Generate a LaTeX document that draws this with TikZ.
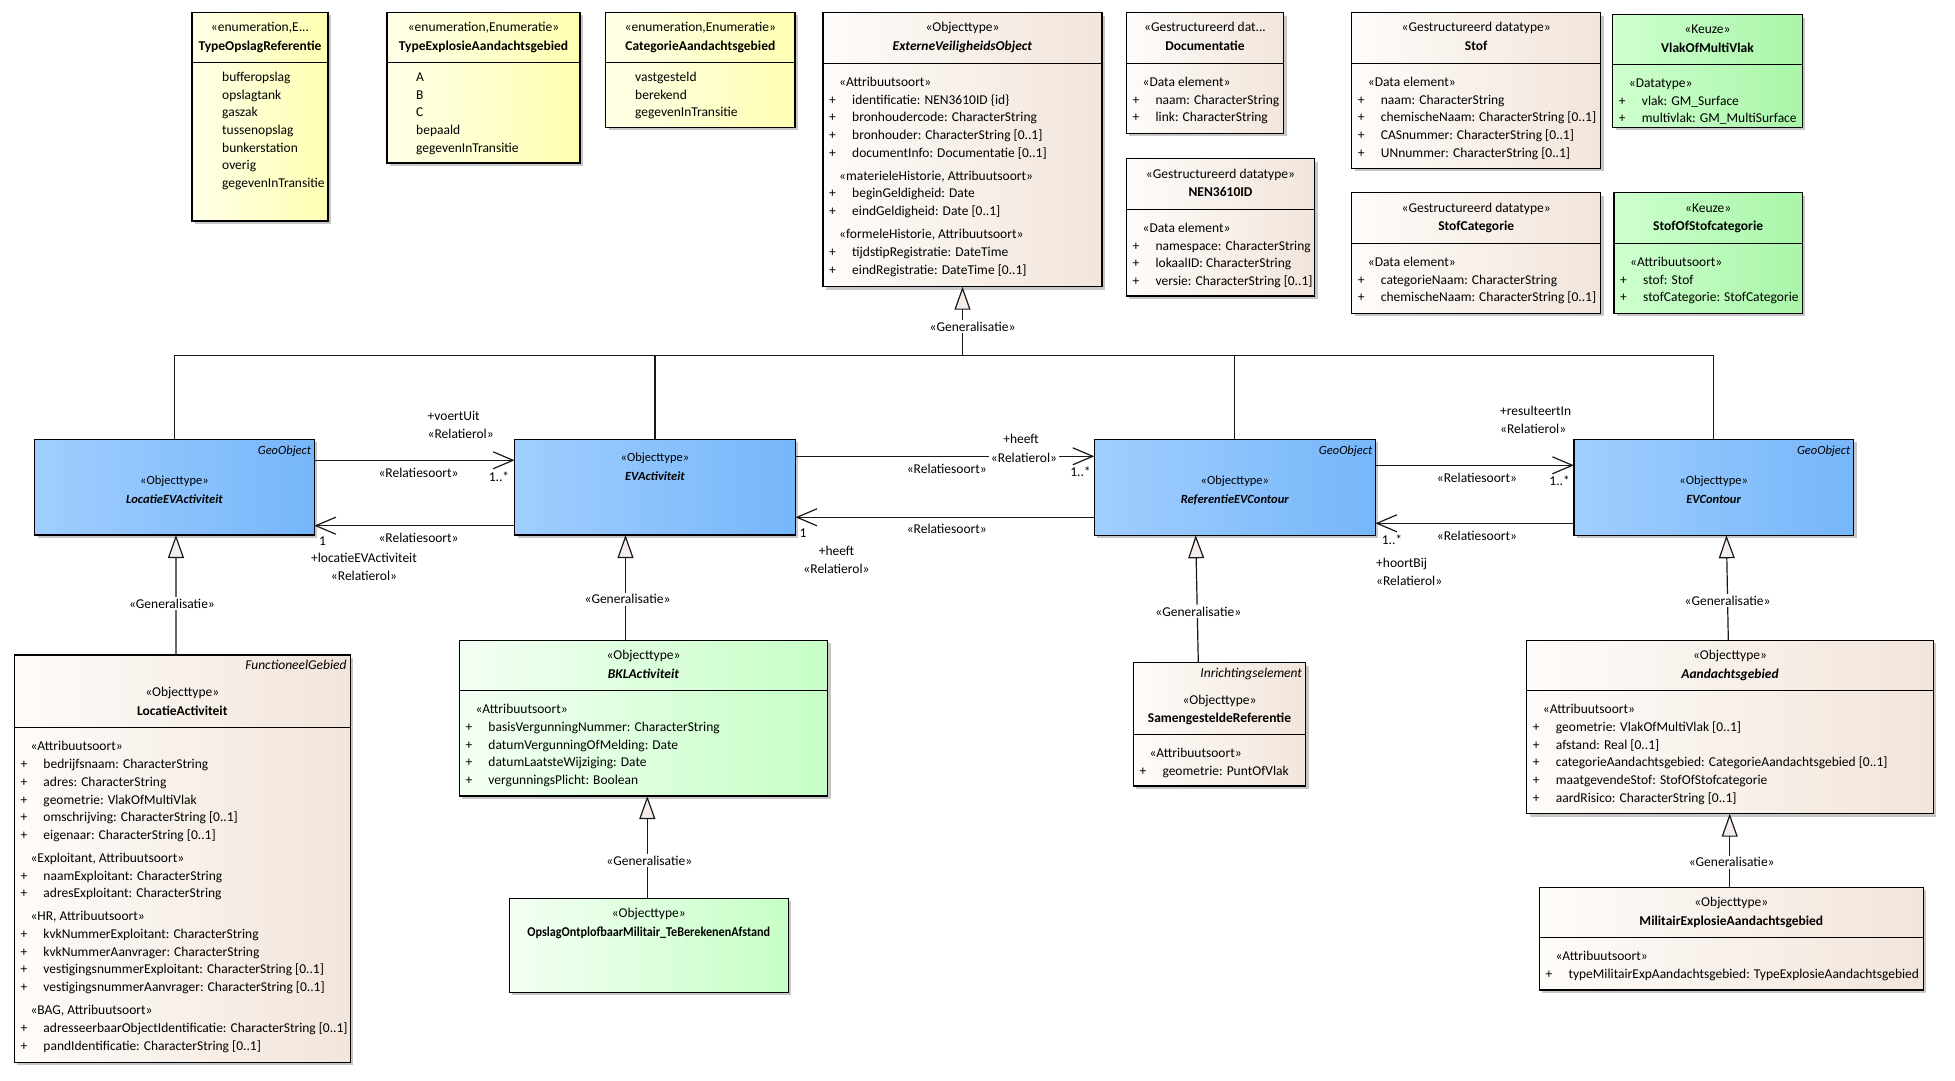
\documentclass[tikz,border=0pt]{standalone}
\usepackage{fontspec}
\setmainfont{Carlito}
\usetikzlibrary{arrows.meta,shadows}

\definecolor{enumL}{RGB}{255,255,232}
\definecolor{enumR}{RGB}{255,255,178}
\definecolor{dataL}{RGB}{254,252,249}
\definecolor{dataR}{RGB}{242,229,219}
\definecolor{keuzeL}{RGB}{206,255,206}
\definecolor{keuzeR}{RGB}{168,246,168}
\definecolor{bklL}{RGB}{244,255,244}
\definecolor{bklR}{RGB}{198,255,198}
\definecolor{geoL}{RGB}{160,206,255}
\definecolor{geoR}{RGB}{118,182,250}
\definecolor{trifill}{RGB}{245,237,233}
\definecolor{linec}{RGB}{25,25,25}

\newcommand{\txtfont}{\fontsize{13.5}{17.7}\selectfont}
\newcommand{\hdfont}{\fontsize{13.5}{18.4}\selectfont}
\newcommand{\blufont}{\fontsize{12.5}{19}\selectfont}
\newcommand{\lblfont}{\fontsize{13.5}{18.3}\selectfont}
\newcommand{\sectline}[1]{\hspace*{10pt}#1}
\newcommand{\attrline}[1]{\makebox[23pt][l]{+}#1}

\tikzset{
  umlbox/.style={draw=black, line width=1.2pt, inner sep=0pt, outer sep=0pt, anchor=north west,
    drop shadow={shadow xshift=3pt, shadow yshift=-3pt, fill=black!22, opacity=1}},
  enumbox/.style={umlbox, left color=enumL, right color=enumR},
  databox/.style={umlbox, left color=dataL, right color=dataR},
  keuzebox/.style={umlbox, left color=keuzeL, right color=keuzeR},
  bklbox/.style={umlbox, left color=bklL, right color=bklR},
  geobox/.style={umlbox, left color=geoL, right color=geoR},
  divline/.style={line width=1.2pt, draw=black},
  hdr/.style={align=center, font=\hdfont, inner sep=0pt},
  bluhdr/.style={align=center, font=\blufont, inner sep=0pt},
  cmp/.style={align=left, anchor=north west, font=\txtfont, inner sep=0pt},
  owner/.style={font=\blufont\itshape, inner sep=0pt, anchor=north east},
  lbl/.style={font=\lblfont, inner sep=0pt},
  genlbl/.style={font=\lblfont, fill=white, inner sep=2pt},
  line/.style={line width=1.2pt, draw=linec},
  assoc/.style={line, -{Straight Barb[length=20pt, width=17pt]}},
  gen/.style={line, -{Triangle[length=23pt, width=16pt, fill=trifill]}}
}

\begin{document}
\begin{tikzpicture}[x=1pt, y=-1pt]
\useasboundingbox (0,0) rectangle (1955,1081);

% --- enumeraties
\node[enumbox, minimum width=136pt, minimum height=208.7pt] (opslag) at (192,12.3) {};
\draw[divline] ([yshift=-50.4pt]opslag.north west) -- ([yshift=-50.4pt]opslag.north east);
\node[hdr] (opslag-h) at (260,37.5) {\strut«enumeration,E...\\\strut\textbf{TypeOpslagReferentie}};
\node[cmp] (opslag-l) at (222,68.9) {\strut bufferopslag\\opslagtank\\gaszak\\tussenopslag\\bunkerstation\\overig\\gegevenInTransitie};

\node[enumbox, minimum width=193pt, minimum height=150.7pt] (explosie) at (387,12.3) {};
\draw[divline] ([yshift=-50.4pt]explosie.north west) -- ([yshift=-50.4pt]explosie.north east);
\node[hdr] (explosie-h) at (483.5,37.5) {\strut«enumeration,Enumeratie»\\\strut\textbf{TypeExplosieAandachtsgebied}};
\node[cmp] (explosie-l) at (416,68.9) {\strut A\\B\\C\\bepaald\\gegevenInTransitie};

\node[enumbox, minimum width=189.3pt, minimum height=115pt] (categorie) at (605.7,12.3) {};
\draw[divline] ([yshift=-50.4pt]categorie.north west) -- ([yshift=-50.4pt]categorie.north east);
\node[hdr] (categorie-h) at (700.35,37.5) {\strut«enumeration,Enumeratie»\\\strut\textbf{CategorieAandachtsgebied}};
\node[cmp] (categorie-l) at (635,68.9) {\strut vastgesteld\\berekend\\gegevenInTransitie};

% --- ExterneVeiligheidsObject
\node[databox, minimum width=279pt, minimum height=274pt] (evo) at (823,12.7) {};
\draw[divline] ([yshift=-50.6pt]evo.north west) -- ([yshift=-50.6pt]evo.north east);
\node[hdr] (evo-h) at (962.5,37.5) {\strut«Objecttype»\\\strut\textbf{\textit{ExterneVeiligheidsObject}}};
\node[cmp] (evo-a) at (829,73.9) {\strut\sectline{«Attribuutsoort»}\\
  \attrline{identificatie: NEN3610ID \{id\}}\\
  \attrline{bronhoudercode: CharacterString}\\
  \attrline{bronhouder: CharacterString [0..1]}\\
  \attrline{documentInfo: Documentatie [0..1]}\\[5.3pt]
  \sectline{«materieleHistorie, Attribuutsoort»}\\
  \attrline{beginGeldigheid: Date}\\
  \attrline{eindGeldigheid: Date [0..1]}\\[5.3pt]
  \sectline{«formeleHistorie, Attribuutsoort»}\\
  \attrline{tijdstipRegistratie: DateTime}\\
  \attrline{eindRegistratie: DateTime [0..1]}};

% --- datatypes
\node[databox, minimum width=157.2pt, minimum height=120.6pt] (doc) at (1126.4,12.7) {};
\draw[divline] ([yshift=-50.6pt]doc.north west) -- ([yshift=-50.6pt]doc.north east);
\node[hdr] (doc-h) at (1205,37.5) {\strut«Gestructureerd dat...\\\strut\textbf{Documentatie}};
\node[cmp] (doc-a) at (1132.4,73.9) {\strut\sectline{«Data element»}\\
  \attrline{naam: CharacterString}\\
  \attrline{link: CharacterString}};

\node[databox, minimum width=188.2pt, minimum height=137.3pt] (nen) at (1126.4,158.7) {};
\draw[divline] ([yshift=-50.6pt]nen.north west) -- ([yshift=-50.6pt]nen.north east);
\node[hdr] (nen-h) at (1220.5,184) {\strut«Gestructureerd datatype»\\\strut\textbf{NEN3610ID}};
\node[cmp] (nen-a) at (1132.4,219.9) {\strut\sectline{«Data element»}\\
  \attrline{namespace: CharacterString}\\
  \attrline{lokaalID: CharacterString}\\
  \attrline{versie: CharacterString [0..1]}};

\node[databox, minimum width=249pt, minimum height=155.6pt] (stof) at (1351.7,12.7) {};
\draw[divline] ([yshift=-50.6pt]stof.north west) -- ([yshift=-50.6pt]stof.north east);
\node[hdr] (stof-h) at (1476.2,37.5) {\strut«Gestructureerd datatype»\\\strut\textbf{Stof}};
\node[cmp] (stof-a) at (1357.7,73.9) {\strut\sectline{«Data element»}\\
  \attrline{naam: CharacterString}\\
  \attrline{chemischeNaam: CharacterString [0..1]}\\
  \attrline{CASnummer: CharacterString [0..1]}\\
  \attrline{UNnummer: CharacterString [0..1]}};

\node[keuzebox, minimum width=189.6pt, minimum height=112.6pt] (vlak) at (1612.7,14.7) {};
\draw[divline] ([yshift=-49.6pt]vlak.north west) -- ([yshift=-49.6pt]vlak.north east);
\node[hdr] (vlak-h) at (1707.5,39.3) {\strut«Keuze»\\\strut\textbf{VlakOfMultiVlak}};
\node[cmp] (vlak-a) at (1618.7,74.9) {\strut\sectline{«Datatype»}\\
  \attrline{vlak: GM\_Surface}\\
  \attrline{multivlak: GM\_MultiSurface}};

\node[databox, minimum width=249pt, minimum height=120.6pt] (stofcat) at (1351.7,192.7) {};
\draw[divline] ([yshift=-50.6pt]stofcat.north west) -- ([yshift=-50.6pt]stofcat.north east);
\node[hdr] (stofcat-h) at (1476.2,218) {\strut«Gestructureerd datatype»\\\strut\textbf{StofCategorie}};
\node[cmp] (stofcat-a) at (1357.7,253.9) {\strut\sectline{«Data element»}\\
  \attrline{categorieNaam: CharacterString}\\
  \attrline{chemischeNaam: CharacterString [0..1]}};

\node[keuzebox, minimum width=188.3pt, minimum height=120.6pt] (stofof) at (1614,192.7) {};
\draw[divline] ([yshift=-50.6pt]stofof.north west) -- ([yshift=-50.6pt]stofof.north east);
\node[hdr] (stofof-h) at (1708.15,218) {\strut«Keuze»\\\strut\textbf{StofOfStofcategorie}};
\node[cmp] (stofof-a) at (1620,253.9) {\strut\sectline{«Attribuutsoort»}\\
  \attrline{stof: Stof}\\
  \attrline{stofCategorie: StofCategorie}};

% --- GeoObjecten
\node[geobox, minimum width=279.7pt, minimum height=95.7pt] (leva) at (34.6,439.3) {};
\node[owner] (leva-o) at ([xshift=-3pt,yshift=-6pt]leva.north east) {GeoObject};
\node[bluhdr] (leva-h) at (174.45,489.7) {\strut«Objecttype»\\\strut\textbf{\textit{LocatieEVActiviteit}}};

\node[geobox, minimum width=280.8pt, minimum height=95.7pt] (evact) at (514.6,439.3) {};
\node[bluhdr] (evact-h) at (655,467.2) {\strut«Objecttype»\\\strut\textbf{\textit{EVActiviteit}}};

\node[geobox, minimum width=281.1pt, minimum height=96pt] (ref) at (1094.3,439.3) {};
\node[owner] (ref-o) at ([xshift=-3pt,yshift=-6pt]ref.north east) {GeoObject};
\node[bluhdr] (ref-h) at (1234.85,489.8) {\strut«Objecttype»\\\strut\textbf{\textit{ReferentieEVContour}}};

\node[geobox, minimum width=279.6pt, minimum height=96pt] (evc) at (1573.9,439.3) {};
\node[owner] (evc-o) at ([xshift=-3pt,yshift=-6pt]evc.north east) {GeoObject};
\node[bluhdr] (evc-h) at (1713.7,489.8) {\strut«Objecttype»\\\strut\textbf{\textit{EVContour}}};

% --- onderste rij
\node[databox, minimum width=336pt, minimum height=407.3pt] (la) at (14.3,655) {};
\draw[divline] ([yshift=-72.7pt]la.north west) -- ([yshift=-72.7pt]la.north east);
\node[owner, font=\txtfont\itshape] (la-o) at ([xshift=-3.5pt,yshift=-5pt]la.north east) {FunctioneelGebied};
\node[hdr] (la-h) at (182.3,702.3) {\strut«Objecttype»\\\strut\textbf{LocatieActiviteit}};
\node[cmp] (la-a) at (20.3,738.3) {\strut\sectline{«Attribuutsoort»}\\
  \attrline{bedrijfsnaam: CharacterString}\\
  \attrline{adres: CharacterString}\\
  \attrline{geometrie: VlakOfMultiVlak}\\
  \attrline{omschrijving: CharacterString [0..1]}\\
  \attrline{eigenaar: CharacterString [0..1]}\\[5.3pt]
  \sectline{«Exploitant, Attribuutsoort»}\\
  \attrline{naamExploitant: CharacterString}\\
  \attrline{adresExploitant: CharacterString}\\[5.3pt]
  \sectline{«HR, Attribuutsoort»}\\
  \attrline{kvkNummerExploitant: CharacterString}\\
  \attrline{kvkNummerAanvrager: CharacterString}\\
  \attrline{vestigingsnummerExploitant: CharacterString [0..1]}\\
  \attrline{vestigingsnummerAanvrager: CharacterString [0..1]}\\[5.3pt]
  \sectline{«BAG, Attribuutsoort»}\\
  \attrline{adresseerbaarObjectIdentificatie: CharacterString [0..1]}\\
  \attrline{pandIdentificatie: CharacterString [0..1]}};

\node[bklbox, minimum width=368.4pt, minimum height=155.7pt] (bkl) at (459.3,640.3) {};
\draw[divline] ([yshift=-50.4pt]bkl.north west) -- ([yshift=-50.4pt]bkl.north east);
\node[hdr] (bkl-h) at (643.5,665.5) {\strut«Objecttype»\\\strut\textbf{\textit{BKLActiviteit}}};
\node[cmp] (bkl-a) at (465.3,701.3) {\strut\sectline{«Attribuutsoort»}\\
  \attrline{basisVergunningNummer: CharacterString}\\
  \attrline{datumVergunningOfMelding: Date}\\
  \attrline{datumLaatsteWijziging: Date}\\
  \attrline{vergunningsPlicht: Boolean}};

\node[bklbox, minimum width=279pt, minimum height=94pt] (opl) at (509.3,898.3) {};
\node[hdr] (opl-h) at (648.8,923.3) {\strut«Objecttype»\\\strut\scalebox{0.9}[1]{\textbf{OpslagOntplofbaarMilitair\_TeBerekenenAfstand}}};

\node[databox, minimum width=172.4pt, minimum height=123.3pt] (sr) at (1133.3,662.7) {};
\draw[divline] ([yshift=-71.6pt]sr.north west) -- ([yshift=-71.6pt]sr.north east);
\node[owner, font=\txtfont\itshape] (sr-o) at ([xshift=-3.5pt,yshift=-5pt]sr.north east) {Inrichtingselement};
\node[hdr] (sr-h) at (1219.5,710) {\strut«Objecttype»\\\strut\textbf{SamengesteldeReferentie}};
\node[cmp] (sr-a) at (1139.3,744.9) {\strut\sectline{«Attribuutsoort»}\\
  \attrline{geometrie: PuntOfVlak}};

\node[databox, minimum width=406.6pt, minimum height=173.4pt] (ag) at (1526.7,640.3) {};
\draw[divline] ([yshift=-50.4pt]ag.north west) -- ([yshift=-50.4pt]ag.north east);
\node[hdr] (ag-h) at (1730,665.5) {\strut«Objecttype»\\\strut\textbf{\textit{Aandachtsgebied}}};
\node[cmp] (ag-a) at (1532.7,701.3) {\strut\sectline{«Attribuutsoort»}\\
  \attrline{geometrie: VlakOfMultiVlak [0..1]}\\
  \attrline{afstand: Real [0..1]}\\
  \attrline{categorieAandachtsgebied: CategorieAandachtsgebied [0..1]}\\
  \attrline{maatgevendeStof: StofOfStofcategorie}\\
  \attrline{aardRisico: CharacterString [0..1]}};

\node[databox, minimum width=384pt, minimum height=102.7pt] (mil) at (1539.3,887.3) {};
\draw[divline] ([yshift=-50pt]mil.north west) -- ([yshift=-50pt]mil.north east);
\node[hdr] (mil-h) at (1731.3,912.2) {\strut«Objecttype»\\\strut\textbf{MilitairExplosieAandachtsgebied}};
\node[cmp] (mil-a) at (1545.3,947.9) {\strut\sectline{«Attribuutsoort»}\\
  \attrline{typeMilitairExpAandachtsgebied: TypeExplosieAandachtsgebied}};

% --- generalisaties
\coordinate (bus) at (962.5,355.3);
\draw[line] (leva.north) |- (evc.north |- bus) -- (evc.north);
\draw[line] (evact.north) -- (evact.north |- bus);
\draw[line] (ref.north) -- (ref.north |- bus);
\draw[gen] (bus) -- node[genlbl, pos=0.42, xshift=10pt] (gl-evo) {«Generalisatie»} (evo.south);
\draw[gen] ([xshift=-6.3pt]la.north) -- node[genlbl, pos=0.43, xshift=-4pt] (gl-leva) {«Generalisatie»} ([xshift=1.5pt]leva.south);
\draw[gen] ([xshift=-18pt]bkl.north) -- node[genlbl, pos=0.39, xshift=2pt] (gl-evact) {«Generalisatie»} ([xshift=-29.5pt]evact.south);
\draw[gen] ([xshift=-1.5pt]opl.north) -- node[genlbl, pos=0.37, xshift=2pt] (gl-bkl) {«Generalisatie»} ([xshift=3.8pt]bkl.south);
\draw[gen] ([xshift=-21.2pt]sr.north) -- node[genlbl, pos=0.4, xshift=1pt] (gl-ref) {«Generalisatie»} ([xshift=-39.15pt]ref.south);
\draw[gen] ([xshift=-1.7pt]ag.north) -- node[genlbl, pos=0.38] (gl-evc) {«Generalisatie»} ([xshift=12.7pt]evc.south);
\draw[gen] ([xshift=-1.6pt]mil.north) -- node[genlbl, pos=0.34, xshift=2pt] (gl-ag) {«Generalisatie»} ([xshift=-0.3pt]ag.south);

% --- relaties
\draw[assoc] ([yshift=-21pt]leva.north east) -- ([yshift=-21pt]evact.north west);
\draw[assoc] ([yshift=-86.4pt]evact.north west) -- ([yshift=-86.4pt]leva.north east);
\draw[assoc] ([yshift=-17pt]evact.north east) -- ([yshift=-17pt]ref.north west);
\draw[assoc] ([yshift=-78pt]ref.north west) -- ([yshift=-78pt]evact.north east);
\draw[assoc] ([yshift=-26pt]ref.north east) -- ([yshift=-26pt]evc.north west);
\draw[assoc] ([yshift=-84pt]evc.north west) -- ([yshift=-84pt]ref.north east);

\node[lbl, align=left, anchor=west] (voertuit) at (427.5,425.9) {\strut+voertUit\\\strut«Relatierol»};
\node[lbl] (rs-a) at (418.6,472.7) {«Relatiesoort»};
\node[lbl] (m-a) at (499,476.7) {1..*};
\node[lbl] (rs-b) at (418.6,537.7) {«Relatiesoort»};
\node[lbl] (m-b) at (322.5,540.7) {1};
\node[lbl, align=center] (locatie) at (364,567.5) {\strut+locatieEVActiviteit\\\strut«Relatierol»};
\node[lbl] (heeft-c) at (1021,439.3) {+heeft};
\node[lbl, fill=white, inner sep=1.5pt] (rol-c) at (1024,457.7) {«Relatierol»};
\node[lbl] (rs-c) at (946.8,469) {«Relatiesoort»};
\node[lbl] (m-c) at (1080.5,472) {1..*};
\node[lbl] (rs-d) at (946.8,529.3) {«Relatiesoort»};
\node[lbl] (m-d) at (803,532.7) {1};
\node[lbl, align=center] (heeft-d) at (836.5,560.9) {\strut+heeft\\\strut«Relatierol»};
\node[lbl, align=left, anchor=west] (resulteert) at (1500,420.7) {\strut+resulteertIn\\\strut«Relatierol»};
\node[lbl] (rs-e) at (1477,478.3) {«Relatiesoort»};
\node[lbl] (m-e) at (1559.6,480.7) {1..*};
\node[lbl] (rs-f) at (1477,535.7) {«Relatiesoort»};
\node[lbl] (m-f) at (1392,540) {1..*};
\node[lbl, align=left, anchor=west] (hoortbij) at (1376,572.9) {\strut+hoortBij\\\strut«Relatierol»};
\end{tikzpicture}
\end{document}
